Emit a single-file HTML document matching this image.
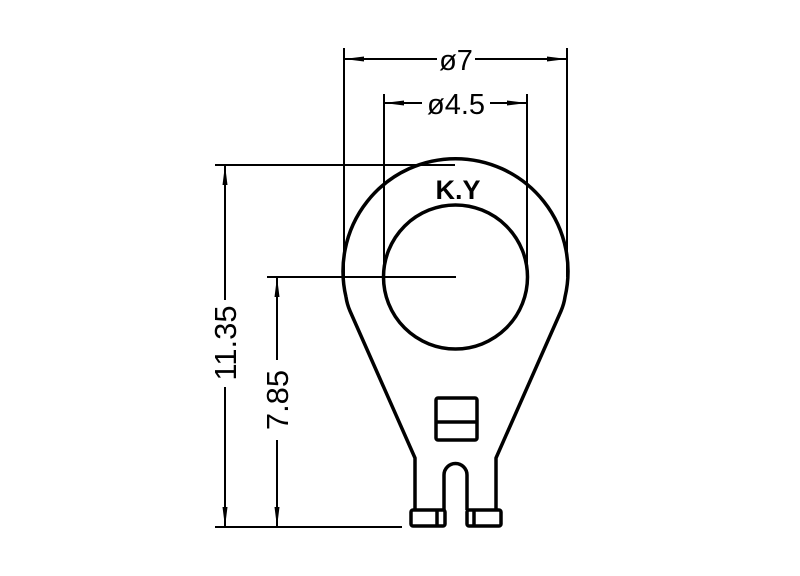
<!DOCTYPE html>
<html><head><style>html,body{margin:0;padding:0;background:#fff}svg{display:block}</style></head>
<body>
<svg width="800" height="576" viewBox="0 0 800 576" xmlns="http://www.w3.org/2000/svg">
<defs>
<marker id="a" viewBox="0 0 20 8" refX="20" refY="4" markerWidth="20" markerHeight="8" markerUnits="userSpaceOnUse" orient="auto-start-reverse"><path d="M0,1.5 L20,4 L0,6.5 Z" fill="#000"/></marker>
</defs>
<g stroke="#000" stroke-width="2" fill="none">
<line x1="344" y1="48" x2="344" y2="277"/>
<line x1="567" y1="48" x2="567" y2="277"/>
<line x1="384" y1="94" x2="384" y2="277"/>
<line x1="527" y1="94" x2="527" y2="277"/>
<line x1="215" y1="165" x2="455" y2="165"/>
<line x1="267" y1="277" x2="456" y2="277"/>
<line x1="215" y1="527" x2="402" y2="527"/>
<line x1="344" y1="59" x2="437" y2="59" marker-start="url(#a)"/>
<line x1="475" y1="59" x2="567" y2="59" marker-end="url(#a)"/>
<line x1="384" y1="103" x2="422" y2="103" marker-start="url(#a)"/>
<line x1="490" y1="103" x2="527" y2="103" marker-end="url(#a)"/>
<line x1="225" y1="165" x2="225" y2="300" marker-start="url(#a)"/>
<line x1="225" y1="387" x2="225" y2="527" marker-end="url(#a)"/>
<line x1="277" y1="277" x2="277" y2="360" marker-start="url(#a)"/>
<line x1="277" y1="440" x2="277" y2="527" marker-end="url(#a)"/>
</g>
<g stroke="#000" stroke-width="3.5" fill="none" stroke-linejoin="round">
<path d="M346,297 A112.5,112.5 0 1 1 565,297 Q564,304 561,311 L496,458 L496,509 M415,509 L415,458 L350,311 Q347,304 346,297"/>
<circle cx="455.5" cy="277" r="72"/>
<rect x="411" y="510" width="34" height="16" rx="2"/>
<line x1="437" y1="510" x2="437" y2="526"/>
<rect x="467" y="510" width="34" height="16" rx="2"/>
<line x1="474" y1="510" x2="474" y2="526"/>
<path d="M444,510 L444,475 A11.5,11.5 0 0 1 467,475 L467,510"/>
<rect x="436" y="398" width="41" height="42" rx="2"/>
<line x1="436" y1="422" x2="477" y2="422"/>
</g>
<g font-family="Liberation Sans, sans-serif" fill="#000">
<text x="456" y="70" font-size="29" text-anchor="middle">ø7</text>
<text x="456" y="114" font-size="29" text-anchor="middle">ø4.5</text>
<text x="458" y="199" font-size="27" font-weight="bold" text-anchor="middle">K.Y</text>
<text transform="translate(236,343) rotate(-90)" font-size="31" text-anchor="middle">11.35</text>
<text transform="translate(288,400) rotate(-90)" font-size="31" text-anchor="middle">7.85</text>
</g>
</svg>
</body></html>
